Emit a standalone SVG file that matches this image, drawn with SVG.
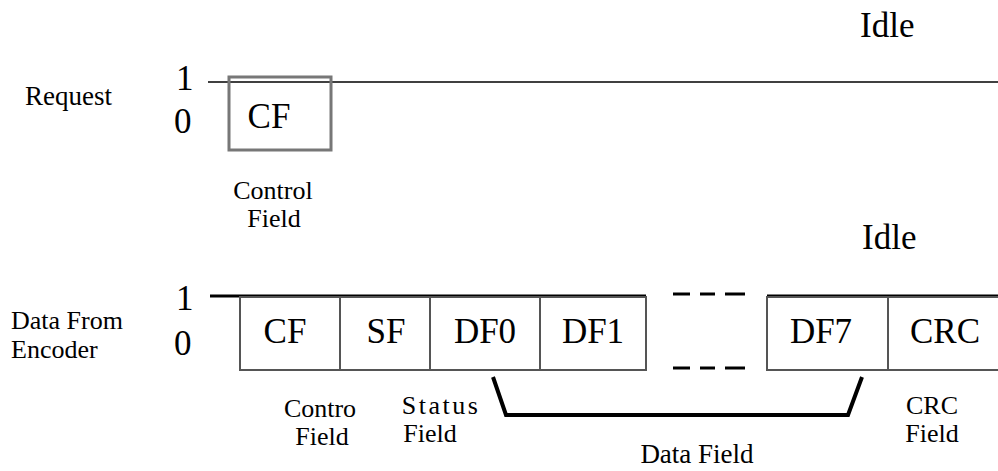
<svg xmlns="http://www.w3.org/2000/svg" width="998" height="471" viewBox="0 0 998 471">
<style>
.big{font-size:35px}
.lbl{font-size:27px}
.two{font-size:26px}
.mid{text-anchor:middle}
.box{fill:#fff;stroke:#555;stroke-width:2}
.sig{stroke:#000;fill:none}
</style>
<rect width="998" height="471" fill="#fff"/>
<g font-family="'Liberation Serif', 'Times New Roman', 'DejaVu Serif', serif" fill="#000">
<g id="axis-labels">
<text class="lbl" x="25" y="105">Request</text>
<text class="big" x="176" y="90">1</text>
<text class="big" x="174" y="133">0</text>
<text class="two" x="11" y="329">Data From</text>
<text class="two" x="11" y="358">Encoder</text>
<text class="big" x="176" y="310">1</text>
<text class="big" x="174" y="355">0</text>
<text class="big" x="860" y="37">Idle</text>
<text class="big" x="862" y="249">Idle</text>
</g>
<g id="connectors">
<line class="sig" x1="208" y1="82" x2="998" y2="82" stroke-width="1.5"/>
<line class="sig" x1="210" y1="296" x2="646" y2="296" stroke-width="3"/>
<line class="sig" x1="767" y1="296" x2="998" y2="296" stroke-width="3"/>
<g stroke="#000" stroke-width="3">
<line x1="673" y1="294" x2="690" y2="294"/>
<line x1="700" y1="294" x2="715" y2="294"/>
<line x1="725" y1="294" x2="745" y2="294"/>
<line x1="673" y1="368" x2="690" y2="368"/>
<line x1="700" y1="368" x2="715" y2="368"/>
<line x1="725" y1="368" x2="745" y2="368"/>
</g>
<polyline class="sig" points="493,377 506,415 848,415 862,377" stroke-width="4"/>
</g>
<g id="req-cf">
<rect x="229" y="77" width="102" height="73" fill="none" stroke="#777" stroke-width="3"/>
<text class="big mid" x="269" y="128">CF</text>
</g>
<g id="cf">
<rect class="box" x="240" y="297" width="100" height="73"/>
<text class="big mid" x="285" y="343">CF</text>
</g>
<g id="sf">
<rect class="box" x="340" y="297" width="90" height="73"/>
<text class="big mid" x="386" y="343">SF</text>
</g>
<g id="df0">
<rect class="box" x="430" y="297" width="110" height="73"/>
<text class="big mid" x="485" y="343">DF0</text>
</g>
<g id="df1">
<rect class="box" x="540" y="297" width="106" height="73"/>
<text class="big mid" x="593" y="343">DF1</text>
</g>
<g id="df7">
<rect class="box" x="767" y="297" width="121" height="73"/>
<text class="big mid" x="821" y="343">DF7</text>
</g>
<g id="crc">
<rect class="box" x="888" y="297" width="112" height="73" stroke-width="3" stroke="#777"/>
<text class="big mid" x="945" y="343">CRC</text>
</g>
<g id="field-labels">
<text class="two mid" x="273" y="199">Control</text>
<text class="two mid" x="274" y="227">Field</text>
<text class="two mid" x="320" y="417">Contro</text>
<text class="two mid" x="322" y="445">Field</text>
<text class="two mid" x="441" y="414" letter-spacing="2.5">Status</text>
<text class="two mid" x="430" y="442">Field</text>
<text class="two mid" x="932" y="414">CRC</text>
<text class="two mid" x="932" y="442">Field</text>
<text class="lbl mid" x="697" y="463">Data Field</text>
</g>
</g>
</svg>
